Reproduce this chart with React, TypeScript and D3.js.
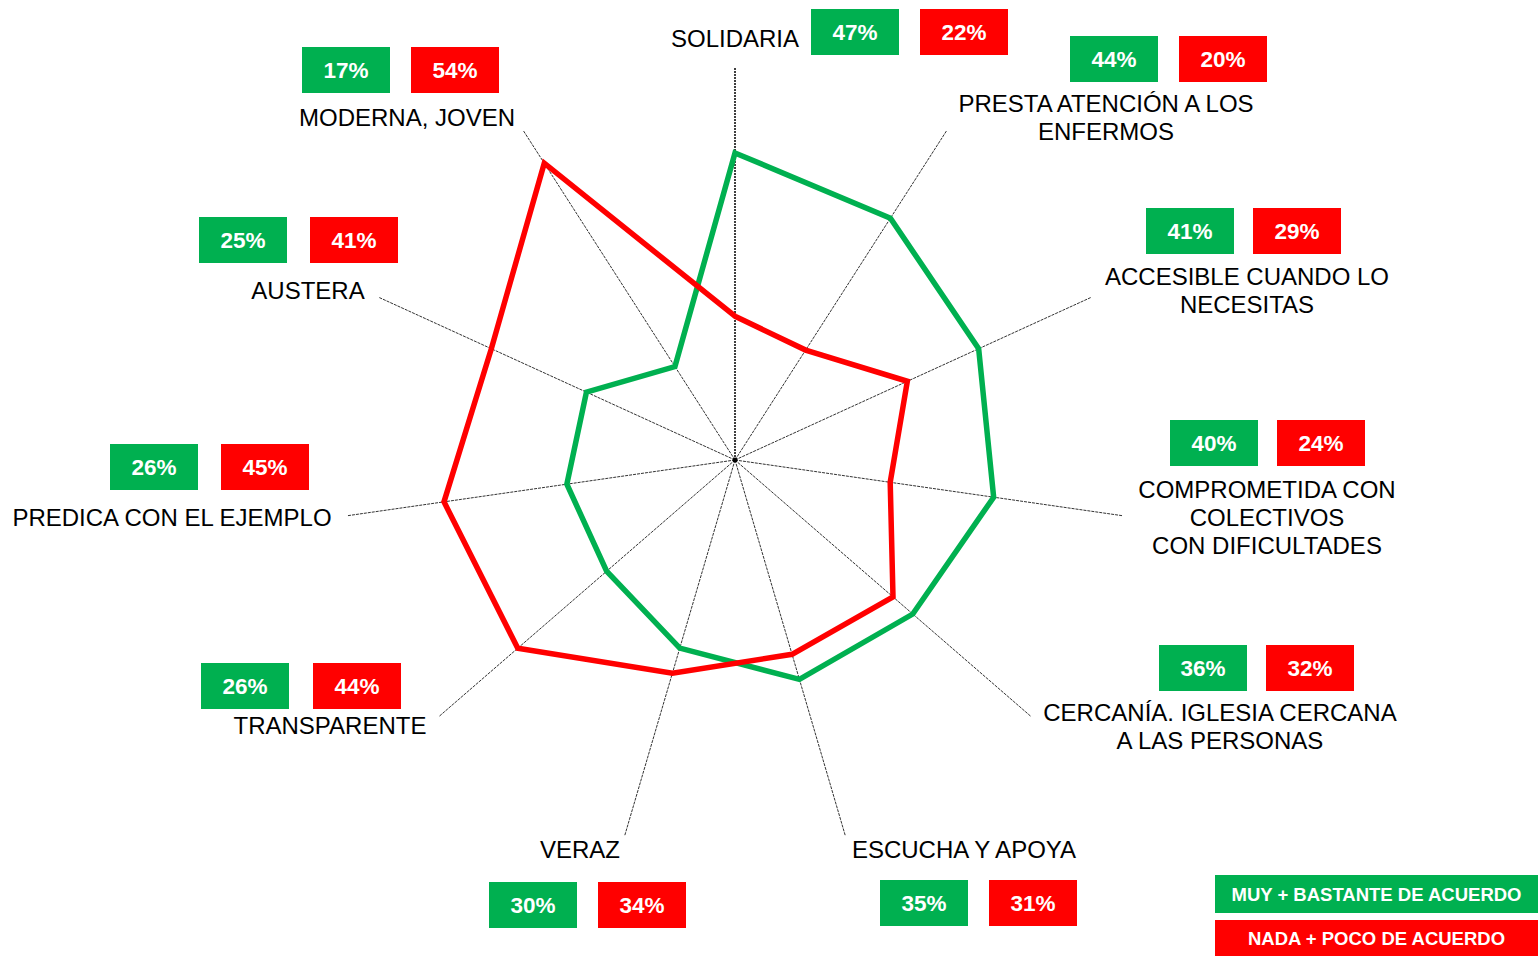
import * as d3 from "d3";

// categories (clockwise from the top)
const categories: string[][] = [
  ["SOLIDARIA"],
  ["PRESTA ATENCIÓN A LOS", "ENFERMOS"],
  ["ACCESIBLE CUANDO LO", "NECESITAS"],
  ["COMPROMETIDA CON", "COLECTIVOS", "CON DIFICULTADES"],
  ["CERCANÍA. IGLESIA CERCANA", "A LAS PERSONAS"],
  ["ESCUCHA Y APOYA"],
  ["VERAZ"],
  ["TRANSPARENTE"],
  ["PREDICA CON EL EJEMPLO"],
  ["AUSTERA"],
  ["MODERNA, JOVEN"],
];

// % muy + bastante de acuerdo
const agreeValues = [47, 44, 41, 40, 36, 35, 30, 26, 26, 25, 17];
// % nada + poco de acuerdo
const disagreeValues = [22, 20, 29, 24, 32, 31, 34, 44, 45, 41, 54];

const legendLabels = ["MUY + BASTANTE DE ACUERDO", "NADA + POCO DE ACUERDO"];

// where each label block sits (label centre x, first baseline, green box x, red box x, box top)
const labelLayout = [
  { tx: 735, ty: 47, gx: 811, rx: 920, by: 9 },
  { tx: 1106, ty: 112, gx: 1070, rx: 1179, by: 36 },
  { tx: 1247, ty: 285, gx: 1146, rx: 1253, by: 208 },
  { tx: 1267, ty: 498, gx: 1170, rx: 1277, by: 420 },
  { tx: 1220, ty: 721, gx: 1159, rx: 1266, by: 645 },
  { tx: 964, ty: 858, gx: 880, rx: 989, by: 880 },
  { tx: 580, ty: 858, gx: 489, rx: 598, by: 882 },
  { tx: 330, ty: 734, gx: 201, rx: 313, by: 663 },
  { tx: 172, ty: 526, gx: 110, rx: 221, by: 444 },
  { tx: 308, ty: 299, gx: 199, rx: 310, by: 217 },
  { tx: 407, ty: 126, gx: 302, rx: 411, by: 47 },
];

const GREEN = "#00B050";
const RED = "#FF0000";
const FONT = "'Liberation Sans', Arial, sans-serif";

const width = 1538;
const height = 956;
const cx = 735;
const cy = 460;
const boxW = 88;
const boxH = 46;

export default function App() {
  const n = categories.length;
  const r = d3.scaleLinear().domain([0, 60]).range([0, 392]);
  const angle = d3
    .scaleLinear()
    .domain([0, n])
    .range([0, 2 * Math.PI]);

  const radial = d3
    .lineRadial<number>()
    .angle((_, i) => angle(i))
    .radius((d) => r(d))
    .curve(d3.curveLinearClosed);

  return (
    <svg
      width={width}
      height={height}
      style={{ position: "absolute", left: 0, top: 0, background: "#fff" }}
      fontFamily={FONT}
    >
      <g transform={`translate(${cx},${cy})`}>
        {categories.map((_, i) => {
          const a = angle(i);
          const x2 = Math.sin(a) * r(60);
          const y2 = -Math.cos(a) * r(60);
          return (
            <line
              key={i}
              x1={0}
              y1={0}
              x2={x2}
              y2={y2}
              stroke={i === 0 ? "#000" : "#333"}
              strokeWidth={i === 0 ? 1.5 : 1}
              strokeDasharray={i === 0 ? "2,1" : "3,1"}
            />
          );
        })}
        <circle r={2.5} fill="#000" />
        <path d={radial(agreeValues) ?? ""} fill="none" stroke={GREEN} strokeWidth={5.5} strokeLinejoin="miter" />
        <path d={radial(disagreeValues) ?? ""} fill="none" stroke={RED} strokeWidth={5.5} strokeLinejoin="miter" />
      </g>

      {categories.map((lines, i) => {
        const L = labelLayout[i];
        return (
          <g key={i}>
            <text x={L.tx} y={L.ty} fontSize={24} textAnchor="middle" fill="#000">
              {lines.map((t, j) => (
                <tspan key={j} x={L.tx} dy={j === 0 ? 0 : 28}>
                  {t}
                </tspan>
              ))}
            </text>
            <rect x={L.gx} y={L.by} width={boxW} height={boxH} fill={GREEN} />
            <text
              x={L.gx + boxW / 2}
              y={L.by + boxH / 2 + 8}
              fontSize={22.5}
              fontWeight="bold"
              textAnchor="middle"
              fill="#fff"
            >
              {agreeValues[i]}%
            </text>
            <rect x={L.rx} y={L.by} width={boxW} height={boxH} fill={RED} />
            <text
              x={L.rx + boxW / 2}
              y={L.by + boxH / 2 + 8}
              fontSize={22.5}
              fontWeight="bold"
              textAnchor="middle"
              fill="#fff"
            >
              {disagreeValues[i]}%
            </text>
          </g>
        );
      })}

      {legendLabels.map((t, i) => {
        const y = i === 0 ? 875 : 920;
        const h = i === 0 ? 38 : 36;
        return (
          <g key={t}>
            <rect x={1215} y={y} width={323} height={h} fill={i === 0 ? GREEN : RED} />
            <text
              x={1215 + 323 / 2}
              y={y + h / 2 + 6.5}
              fontSize={18.5}
              fontWeight="bold"
              textAnchor="middle"
              fill="#fff"
            >
              {t}
            </text>
          </g>
        );
      })}
    </svg>
  );
}
